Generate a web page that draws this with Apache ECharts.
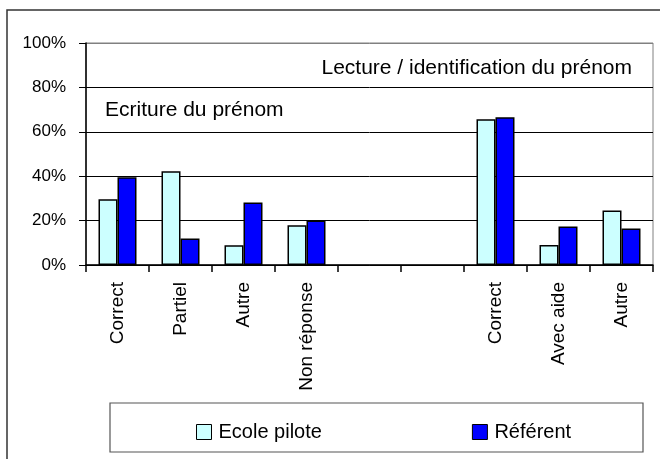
<!DOCTYPE html>
<html>
<head>
<meta charset="utf-8">
<script src="https://cdn.jsdelivr.net/npm/echarts@6/dist/echarts.min.js"></script>
<style>
html, body { margin: 0; padding: 0; background: #fff; }
#chart { width: 660px; height: 459px; }
</style>
</head>
<body>
<div id="chart"></div>
<script>
var dom = document.getElementById('chart');
var chart = echarts.init(dom);

var categories = ['Correct', 'Partiel', 'Autre', 'Non réponse', '', '', 'Correct', 'Avec aide', 'Autre'];
var ecolePilote = [29.6, 42.2, 8.9, 17.9, null, null, 65.6, 9.0, 24.5];
var referent = [39.5, 11.9, 28.1, 20.0, null, null, 66.5, 17.3, 16.4];
var yTicks = [0, 20, 40, 60, 80, 100];

var font = 'Liberation Sans, Arial, sans-serif';

var option = {
	animation: false,
	backgroundColor: '#fff',
	grid: {
		left: 86,
		right: 7,
		top: 43,
		bottom: 194,
		show: true,
		borderColor: '#808080',
		borderWidth: 1
	},
	xAxis: {
		type: 'category',
		data: categories,
		axisLine: { lineStyle: { color: '#000', width: 1.5 } },
		axisTick: { show: true, interval: 0, length: 7, lineStyle: { color: '#000', width: 1.5 } },
		axisLabel: {
			interval: 0,
			rotate: 90,
			margin: 17,
			color: '#000',
			fontFamily: font,
			fontSize: 19
		}
	},
	yAxis: {
		type: 'value',
		min: yTicks[0],
		max: yTicks[yTicks.length - 1],
		interval: 20,
		axisLine: { show: true, lineStyle: { color: '#000', width: 1.5 } },
		axisTick: { show: true, length: 7, lineStyle: { color: '#000', width: 1 } },
		axisLabel: {
			margin: 20,
			color: '#000',
			fontFamily: font,
			fontSize: 17,
			formatter: '{value}%'
		},
		splitLine: {
			lineStyle: { color: ['#000', '#000', '#000', '#000', '#000', '#808080'], width: 1 }
		}
	},
	legend: {
		left: 191,
		top: 417,
		itemWidth: 15,
		itemHeight: 15,
		itemGap: 150,
		icon: 'rect',
		itemStyle: { borderColor: '#000', borderWidth: 1 },
		textStyle: { color: '#000', fontFamily: font, fontSize: 20, padding: [0, 0, 0, 2] },
		data: ['Ecole pilote', 'Référent']
	},
	graphic: [
		{
			type: 'rect',
			shape: { x: 7, y: 10, width: 700, height: 500 },
			style: { fill: 'none', stroke: '#333', lineWidth: 1.5 },
			silent: true
		},
		{
			type: 'rect',
			shape: { x: 110, y: 403, width: 533, height: 49 },
			style: { fill: 'none', stroke: '#555', lineWidth: 1.2 },
			silent: true,
			z: -1
		},
		{
			type: 'text',
			left: 105,
			top: 100,
			style: { text: 'Ecriture du prénom', fill: '#000', font: '21px ' + font }
		},
		{
			type: 'text',
			right: 28,
			top: 58,
			style: { text: 'Lecture / identification du prénom', fill: '#000', font: '21px ' + font }
		}
	],
	series: [
		{
			name: 'Ecole pilote',
			type: 'bar',
			data: ecolePilote,
			barWidth: 19,
			barGap: '0%',
			itemStyle: { color: '#CCFFFF', borderColor: '#000', borderWidth: 1.5 }
		},
		{
			name: 'Référent',
			type: 'bar',
			data: referent,
			barWidth: 19,
			barGap: '0%',
			itemStyle: { color: '#0000FF', borderColor: '#000', borderWidth: 1.5 }
		}
	]
};

chart.setOption(option);
</script>
</body>
</html>
